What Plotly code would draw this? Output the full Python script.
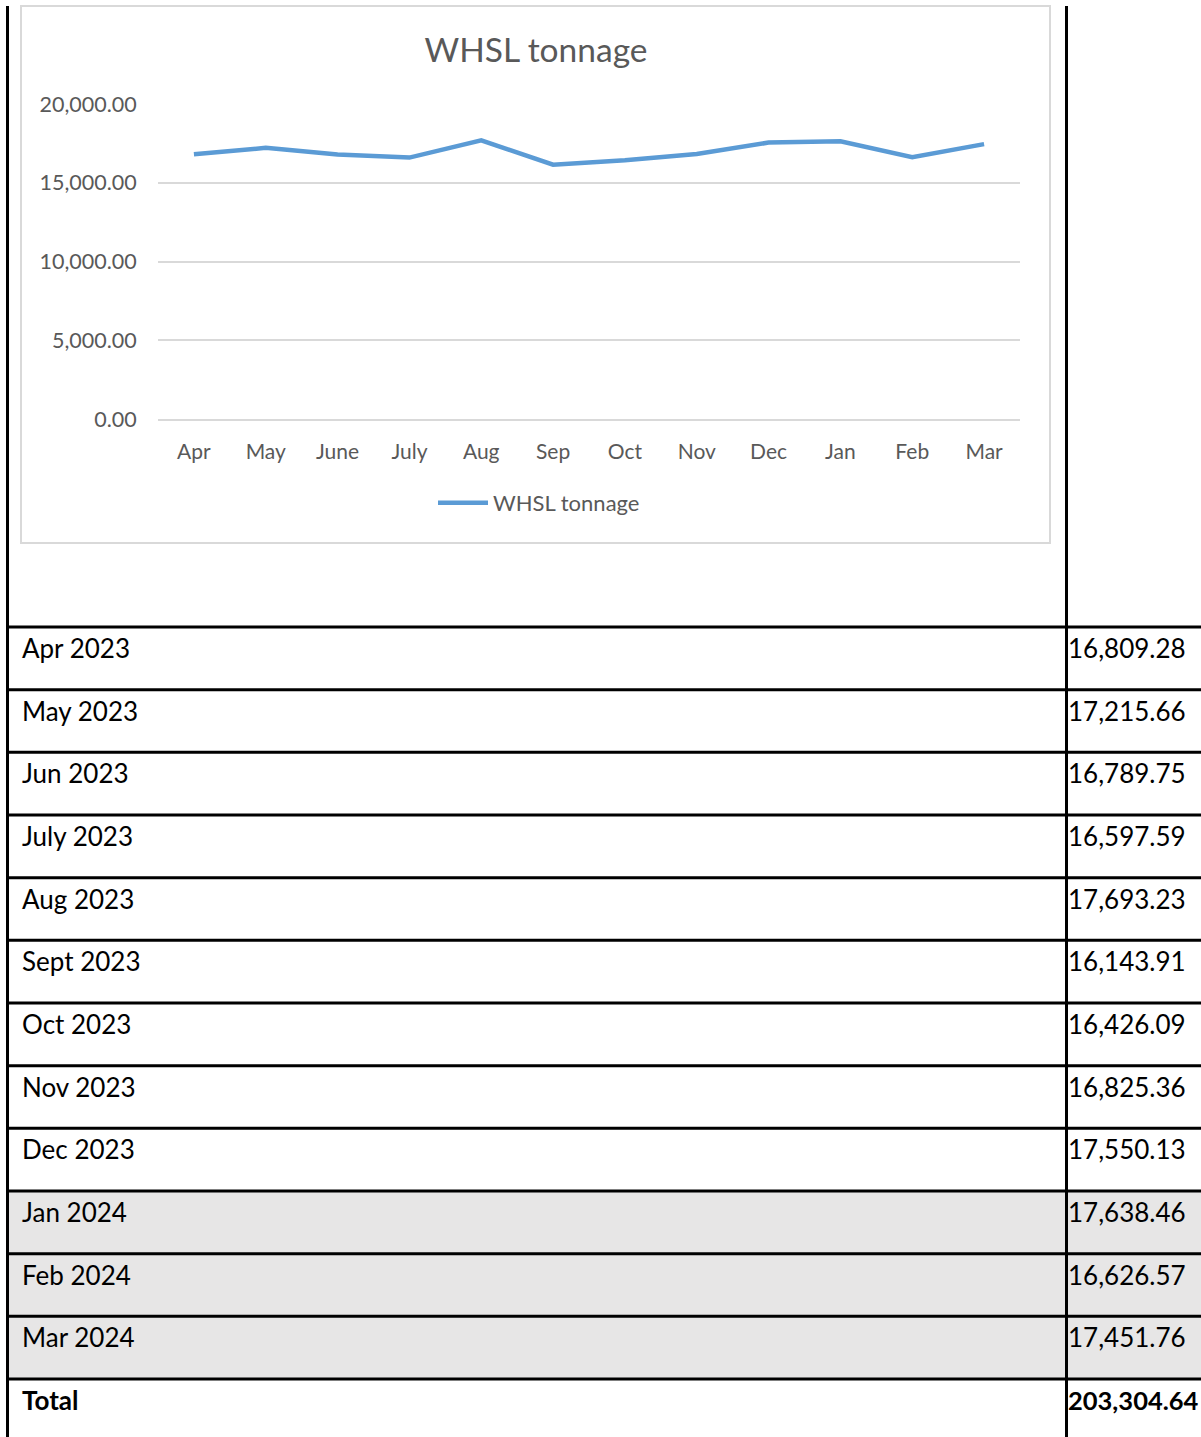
import plotly.graph_objects as go

W, H = 1201, 1437

months = ["Apr", "May", "June", "July", "Aug", "Sep", "Oct", "Nov", "Dec", "Jan", "Feb", "Mar"]
tonnage = [16809.28, 17215.66, 16789.75, 16597.59, 17693.23, 16143.91,
           16426.09, 16825.36, 17550.13, 17638.46, 16626.57, 17451.76]
row_labels = ["Apr 2023", "May 2023", "Jun 2023", "July 2023", "Aug 2023", "Sept 2023",
              "Oct 2023", "Nov 2023", "Dec 2023", "Jan 2024", "Feb 2024", "Mar 2024"]
total_label = "Total"
total_value = 203304.64
shaded_rows = ["Jan 2024", "Feb 2024", "Mar 2024"]
y_ticks = [0, 5000, 10000, 15000, 20000]

FONT = "Lato, 'Open Sans', sans-serif"
GREY_TXT = "#595959"
GRID = "#d9d9d9"
BLUE = "#5b9bd5"


def fx(px):
    return px / W


def fy(py):
    return 1 - py / H


fig = go.Figure()
fig.add_trace(go.Scatter(
    x=months, y=tonnage, mode="lines", name="WHSL tonnage",
    line=dict(color=BLUE, width=4.5), showlegend=True,
))

fig.update_layout(
    width=W, height=H, autosize=False,
    margin=dict(l=0, r=0, t=0, b=0, pad=0, autoexpand=False),
    paper_bgcolor="white", plot_bgcolor="rgba(0,0,0,0)",
    font=dict(family=FONT, color=GREY_TXT),
    title=dict(text="WHSL tonnage", x=fx(536), y=fy(50), xanchor="center", yanchor="middle",
               xref="paper", yref="paper", font=dict(size=33.5, color=GREY_TXT, family=FONT)),
    xaxis=dict(domain=[fx(158), fx(1020)], range=[-0.5, 11.5], type="category",
               showgrid=False, zeroline=False, showline=True, linecolor=GRID, linewidth=1.5,
               ticks="outside", ticklen=13, tickcolor="rgba(0,0,0,0)", automargin=False,
               tickfont=dict(size=21, color=GREY_TXT, family=FONT), fixedrange=True),
    yaxis=dict(domain=[fy(419), fy(104)], range=[0, 20000], tickvals=y_ticks,
               tickformat=",.2f", showgrid=True, gridcolor=GRID, gridwidth=1.5,
               zeroline=False, showline=False, automargin=False,
               ticks="outside", ticklen=16, tickcolor="rgba(0,0,0,0)",
               tickfont=dict(size=21.5, color=GREY_TXT, family=FONT), fixedrange=True),
    legend=dict(orientation="h", x=fx(539), y=fy(503), xanchor="center", yanchor="middle",
                font=dict(size=22, color=GREY_TXT, family=FONT), bgcolor="rgba(0,0,0,0)",
                itemwidth=50),
)

shapes = []
# chart frame
shapes.append(dict(type="rect", xref="paper", yref="paper",
                   x0=fx(21), x1=fx(1050), y0=fy(543), y1=fy(6),
                   line=dict(color=GRID, width=2), fillcolor="rgba(0,0,0,0)", layer="below"))

# table geometry
top_line = 627
pitch = (1379 - 627) / 12
all_labels = row_labels + [total_label]
lines_y = [top_line + i * pitch for i in range(len(all_labels))]

# shaded rows
for i, lab in enumerate(row_labels):
    if lab in shaded_rows:
        shapes.append(dict(type="rect", xref="paper", yref="paper",
                           x0=fx(8), x1=fx(1201), y0=fy(lines_y[i] + pitch), y1=fy(lines_y[i]),
                           line=dict(width=0), fillcolor="#e7e6e6", layer="below"))

# horizontal rules
for yl in lines_y:
    shapes.append(dict(type="line", xref="paper", yref="paper",
                       x0=fx(8), x1=fx(1201), y0=fy(yl), y1=fy(yl),
                       line=dict(color="black", width=3)))
# vertical rules
for xl in (7.5, 1066.5):
    shapes.append(dict(type="line", xref="paper", yref="paper",
                       x0=fx(xl), x1=fx(xl), y0=fy(6), y1=fy(1437),
                       line=dict(color="black", width=3)))
fig.update_layout(shapes=shapes)

annotations = []
values = tonnage + [total_value]
for i, (lab, v) in enumerate(zip(all_labels, values)):
    bold = lab == total_label
    ycen = lines_y[i] + 21
    t1 = f"<b>{lab}</b>" if bold else lab
    t2 = f"<b>{v:,.2f}</b>" if bold else f"{v:,.2f}"
    annotations.append(dict(text=t1, x=fx(20), y=fy(ycen), xref="paper", yref="paper",
                            xanchor="left", yanchor="middle", showarrow=False,
                            font=dict(size=26, color="black", family=FONT)))
    annotations.append(dict(text=t2, x=fx(1066), y=fy(ycen), xref="paper", yref="paper",
                            xanchor="left", yanchor="middle", showarrow=False,
                            font=dict(size=26 if not bold else 25.5, color="black", family=FONT)))
fig.update_layout(annotations=annotations)

fig.write_html(
    "out.html",
    config={"responsive": False, "displayModeBar": False},
    post_script="document.body.style.margin='0';document.body.style.overflow='hidden';",
)
